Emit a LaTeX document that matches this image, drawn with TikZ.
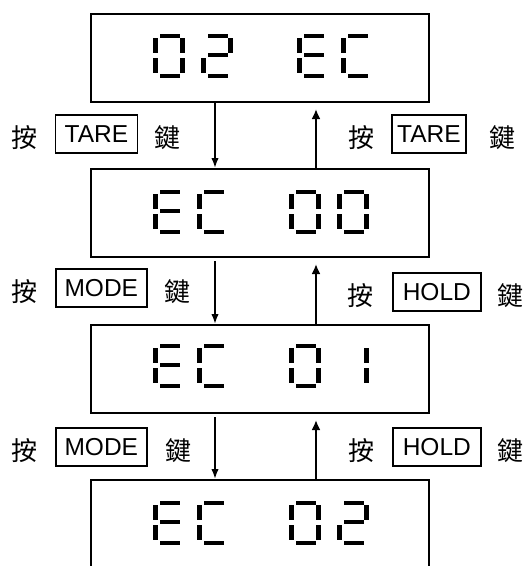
\documentclass[tikz,border=0pt]{standalone}
\usepackage{fontspec}
\setmainfont{Liberation Sans}
\newfontfamily\cjk{Noto Sans CJK TC}
\usetikzlibrary{arrows.meta}

% seven segments of one digit cell (32 x 43)
\newcommand{\sega}{(6.5,0) rectangle (26.5,4)}
\newcommand{\segb}{(27.3,4) rectangle (32,19)}
\newcommand{\segc}{(27.3,24) rectangle (32,39)}
\newcommand{\segd}{(6.5,39.5) rectangle (26.5,43.5)}
\newcommand{\sege}{(0,24) rectangle (4.7,39)}
\newcommand{\segf}{(0,4) rectangle (4.7,19)}
\newcommand{\segg}{(6.5,19.3) rectangle (26.5,23.3)}

\newcommand{\segdigit}[3]{%
  \begin{scope}[shift={(#1,#2)}]
    \foreach \s in {#3} {\expandafter\fill\csname seg\s\endcsname;}
  \end{scope}}
\newcommand{\dgzero}[2]{\segdigit{#1}{#2}{a,b,c,d,e,f}}
\newcommand{\dgone}[2]{\segdigit{#1}{#2}{b,c}}
\newcommand{\dgtwo}[2]{\segdigit{#1}{#2}{a,b,g,e,d}}
\newcommand{\dgE}[2]{\segdigit{#1}{#2}{a,f,g,e,d}}
\newcommand{\dgC}[2]{\segdigit{#1}{#2}{a,f,e,d}}

\tikzset{
    screen/.style={draw, line width=2pt, minimum width=338pt, minimum height=88pt,
        inner sep=0pt, anchor=north west},
    keybox/.style={draw, line width=1.9pt, minimum height=38pt, inner sep=0pt,
        font=\fontsize{24.5}{29}\selectfont},
    hanzi/.style={inner sep=0pt, font=\cjk\fontsize{26}{30}\selectfont},
    dnarrow/.style={line width=1.8pt, -{Latex[length=10pt,width=7.5pt]}},
    uparrow/.style={line width=2.3pt, -{Latex[length=10pt,width=9pt]}},
}

\begin{document}
\begin{tikzpicture}[x=1pt, y=-1pt]
    \useasboundingbox (0,0) rectangle (527,566);
    \clip (0,0) rectangle (527,566);

    \coordinate (Down) at (215,0);
    \coordinate (Up)   at (316,0);

    % the four displays (the last runs off the page)
    \node[screen] (s1) at (90,13)  {};
    \node[screen] (s2) at (90,168) {};
    \node[screen] (s3) at (90,324) {};
    \node[screen, minimum height=120pt] (s4) at (90,479) {};

    % digits
    \dgzero{153}{34} \dgtwo{201}{34} \dgE{297}{34} \dgC{341}{34}
    \foreach \y in {190,344,501} {
        \dgE{153}{\y} \dgC{197}{\y} \dgzero{289}{\y}
    }
    \dgzero{337}{190} \dgone{337}{344} \dgtwo{337}{501}

    % arrows between displays
    \foreach \a/\b/\g in {s1/s2/0, s2/s3/3, s3/s4/3} {
        \draw [dnarrow, shorten <=\g pt] (\a.south -| Down) -- (\b.north -| Down);
        \draw [uparrow, shorten >=6pt] (\b.north -| Up) -- (\a.south -| Up);
    }

    % key labels, left
    \node[hanzi] (p1l) at (24.7,138) {按};
    \node[keybox, minimum width=82pt] (k1l) at (96.5,134) {TARE};
    \node[hanzi] (j1l) at (167,138) {鍵};
    \node[hanzi] (p2l) at (24.5,292) {按};
    \node[keybox, minimum width=91pt] (k2l) at (101.3,288) {MODE};
    \node[hanzi] (j2l) at (177.5,292) {鍵};
    \node[hanzi] (p3l) at (24.5,451) {按};
    \node[keybox, minimum width=91pt] (k3l) at (101.3,447) {MODE};
    \node[hanzi] (j3l) at (178,451) {鍵};

    % key labels, right
    \node[hanzi] (p1r) at (361.5,138) {按};
    \node[keybox, minimum width=74pt] (k1r) at (429,134) {TARE};
    \node[hanzi] (j1r) at (502,138) {鍵};
    \node[hanzi] (p2r) at (360.5,296) {按};
    \node[keybox, minimum width=88pt] (k2r) at (436.8,292) {HOLD};
    \node[hanzi] (j2r) at (510,296) {鍵};
    \node[hanzi] (p3r) at (361,451) {按};
    \node[keybox, minimum width=88pt] (k3r) at (436.8,447) {HOLD};
    \node[hanzi] (j3r) at (510,451) {鍵};
\end{tikzpicture}
\end{document}
